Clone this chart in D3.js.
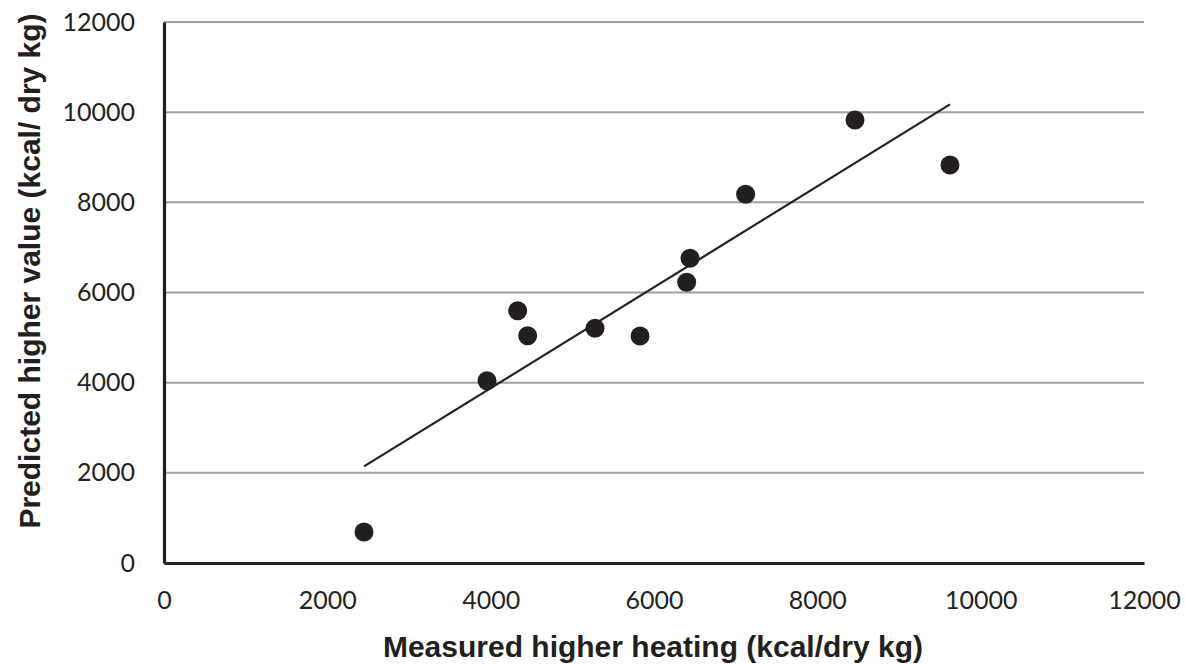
<!DOCTYPE html>
<html>
<head>
<meta charset="utf-8">
<script src="https://cdn.jsdelivr.net/npm/d3@7"></script>
<style>
  html, body { margin: 0; padding: 0; background: #fff; }
  svg { display: block; }
</style>
</head>
<body>
<svg id="chart" width="1185" height="664"></svg>
<script>
// Measured vs. predicted higher heating value (kcal / dry kg)
const measured  = [2449, 3955, 4331, 4453, 5278, 5829, 6400, 6441, 7122, 8461, 9624];
const predicted = [ 688, 4044, 5596, 5042, 5206, 5035, 6226, 6759, 8178, 9826, 8828];
const xTicks = [0, 2000, 4000, 6000, 8000, 10000, 12000];
const yTicks = [0, 2000, 4000, 6000, 8000, 10000, 12000];

const xTitle = "Measured higher heating (kcal/dry kg)";
const yTitle = "Predicted higher value (kcal/ dry kg)";

(function draw() {
  const svg = d3.select("#chart");
  const plotLeft = 164, plotRight = 1144, plotTop = 22, plotBottom = 563;

  const x = d3.scaleLinear().domain([0, 12000]).range([plotLeft, plotRight]);
  const y = d3.scaleLinear().domain([0, 12000]).range([plotBottom, plotTop]);

  const ink = "#231f20";
  const tickFont = "Lato, 'Open Sans', sans-serif";
  const titleFont = "'Liberation Sans', Arial, sans-serif";

  // horizontal gridlines
  svg.append("g")
    .selectAll("line")
    .data(yTicks.filter(d => d > 0))
    .join("line")
    .attr("x1", plotLeft).attr("x2", plotRight)
    .attr("y1", d => y(d)).attr("y2", d => y(d))
    .attr("stroke", "#a0a0a0")
    .attr("stroke-width", 2);

  // y axis
  const yAxis = svg.append("g")
    .attr("transform", `translate(${plotLeft},0)`)
    .call(d3.axisLeft(y).tickValues(yTicks).tickSize(0).tickPadding(29).tickFormat(d3.format("d")));
  yAxis.select(".domain").attr("stroke", ink).attr("stroke-width", 3.2);
  yAxis.selectAll("text")
    .attr("font-family", tickFont).attr("font-size", 25).attr("fill", ink);

  // x axis
  const xAxis = svg.append("g")
    .attr("transform", `translate(0,${plotBottom})`)
    .call(d3.axisBottom(x).tickValues(xTicks).tickSize(0).tickPadding(28).tickFormat(d3.format("d")));
  xAxis.select(".domain").attr("stroke", ink).attr("stroke-width", 3.2);
  xAxis.selectAll("text")
    .attr("font-family", tickFont).attr("font-size", 25).attr("fill", ink);

  // least-squares trend line over the measured range
  const mx = d3.mean(measured), my = d3.mean(predicted);
  const sxy = d3.sum(measured, (v, i) => (v - mx) * (predicted[i] - my));
  const sxx = d3.sum(measured, v => (v - mx) * (v - mx));
  const slope = sxy / sxx, intercept = my - slope * mx;
  const fit = d3.extent(measured).map(v => [v, intercept + slope * v]);

  svg.append("path")
    .datum(fit)
    .attr("d", d3.line().x(d => x(d[0])).y(d => y(d[1])))
    .attr("fill", "none")
    .attr("stroke", ink)
    .attr("stroke-width", 2.2);

  // data points
  svg.append("g")
    .selectAll("circle")
    .data(measured.map((v, i) => [v, predicted[i]]))
    .join("circle")
    .attr("cx", d => x(d[0]))
    .attr("cy", d => y(d[1]))
    .attr("r", 9.5)
    .attr("fill", ink);

  // axis titles
  svg.append("text")
    .attr("x", 653).attr("y", 657)
    .attr("text-anchor", "middle")
    .attr("font-family", titleFont).attr("font-weight", "bold")
    .attr("font-size", 30).attr("fill", ink)
    .text(xTitle);

  svg.append("text")
    .attr("transform", "translate(40,271) rotate(-90)")
    .attr("text-anchor", "middle")
    .attr("font-family", titleFont).attr("font-weight", "bold")
    .attr("font-size", 30).attr("fill", ink)
    .text(yTitle);
})();
</script>
</body>
</html>
